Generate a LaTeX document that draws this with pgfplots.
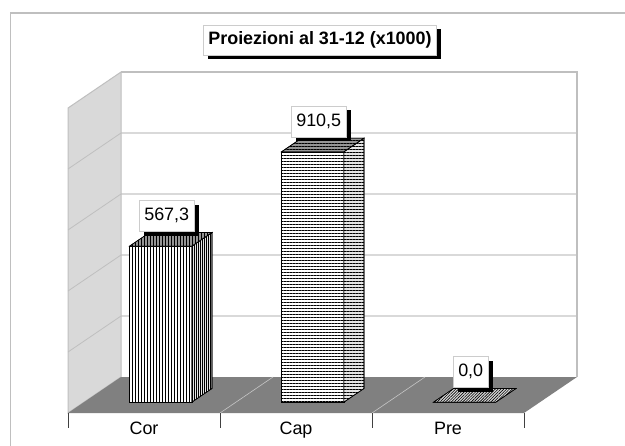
\documentclass[border=0pt]{standalone}
\usepackage{fontspec}
\setmainfont{Liberation Sans}
\usepackage{pgfplots}
\pgfplotsset{compat=1.18}
\usetikzlibrary{patterns.meta,shadows}
\definecolor{wallgray}{HTML}{D9D9D9}
\definecolor{edgegray}{HTML}{BFBFBF}
\definecolor{floorgray}{HTML}{808080}
\definecolor{topgray}{HTML}{959595}
\tikzset{
  myshadow/.style={drop shadow={shadow xshift=4.5bp,shadow yshift=-4.5bp,fill=black,opacity=1}},
  barface/.style={draw=black,line width=0.6bp},
}
\begin{document}
\begin{tikzpicture}
\useasboundingbox (0,0) rectangle (625bp,446bp);
\fill[white] (0,0) rectangle (625bp,446bp);
\draw[edgegray,line width=1.3bp] (10.5bp,-2bp) -- (10.5bp,433bp) -- (627bp,433bp);
\begin{axis}[
  at={(68bp,33bp)}, anchor=origin,
  x={(152bp,0bp)}, y={(53bp,36bp)}, z={(0bp,0.275bp)},
  xmin=0,xmax=3,ymin=0,ymax=1,zmin=0,zmax=1109,
  hide axis, clip=false,
]
% back wall
\addplot3[fill=white,draw=none] coordinates {(0,1,0) (3,1,0) (3,1,1109) (0,1,1109)} -- cycle;
\foreach \zz in {221.8,443.6,665.5,887.3}{
  \edef\tmp{\noexpand\draw[wallgray,line width=1.2bp] (0,1,\zz) -- (3,1,\zz);}\tmp
}
\draw[edgegray,line width=1.3bp] (0,1,1109) -- (3,1,1109) -- (3,1,0);
% left wall
\addplot3[fill=wallgray,draw=edgegray,line width=1bp] coordinates {(0,0,0) (0,1,0) (0,1,1109) (0,0,1109)} -- cycle;
\foreach \zz in {221.8,443.6,665.5,887.3}{
  \edef\tmp{\noexpand\draw[edgegray,line width=0.8bp] (0,0,\zz) -- (0,1,\zz);}\tmp
}
% floor
\addplot3[fill=floorgray,draw=none] coordinates {(0,0,0) (3,0,0) (3,1,0) (0,1,0)} -- cycle;
\draw[gray!45,line width=0.6bp] (1,0,0) -- (1,1,0);
\draw[gray!45,line width=0.6bp] (2,0,0) -- (2,1,0);
% ticks
\foreach \xx in {0,1,2,3}{
  \edef\tmp{\noexpand\draw[black!75,line width=0.8bp] (\xx,0,0) -- (\xx,0,-55);}\tmp
}
% category labels
\node[anchor=base,font=\fontsize{18}{21}\selectfont] at (0.5,0,-78) {Cor};
\node[anchor=base,font=\fontsize{18}{21}\selectfont] at (1.5,0,-78) {Cap};
\node[anchor=base,font=\fontsize{18}{21}\selectfont] at (2.5,0,-78) {Pre};
% Cor bar
\addplot3[barface,fill=white,postaction={pattern={Lines[angle=90,distance=3bp,line width=0.7bp]}}]
  coordinates {(0.3,0.3,0) (0.71,0.3,0) (0.71,0.3,567.3) (0.3,0.3,567.3)} -- cycle;
\addplot3[barface,fill=gray!20,postaction={pattern={Lines[angle=90,distance=2bp,line width=0.6bp]}}]
  coordinates {(0.71,0.3,0) (0.71,0.68,0) (0.71,0.68,567.3) (0.71,0.3,567.3)} -- cycle;
\addplot3[barface,fill=topgray,postaction={pattern={Lines[angle=90,distance=3bp,line width=0.6bp]}}]
  coordinates {(0.3,0.3,567.3) (0.71,0.3,567.3) (0.71,0.68,567.3) (0.3,0.68,567.3)} -- cycle;
% Cap bar
\addplot3[barface,fill=white,postaction={pattern={Lines[angle=0,distance=3bp,line width=0.7bp]}}]
  coordinates {(1.3,0.3,0) (1.71,0.3,0) (1.71,0.3,910.5) (1.3,0.3,910.5)} -- cycle;
\addplot3[barface,fill=gray!20,postaction={pattern={Lines[angle=0,distance=3bp,line width=0.7bp]}}]
  coordinates {(1.71,0.3,0) (1.71,0.68,0) (1.71,0.68,910.5) (1.71,0.3,910.5)} -- cycle;
\addplot3[barface,fill=topgray,postaction={pattern={Lines[angle=0,distance=3bp,line width=0.6bp]}}]
  coordinates {(1.3,0.3,910.5) (1.71,0.3,910.5) (1.71,0.68,910.5) (1.3,0.68,910.5)} -- cycle;
% Pre bar (value 0: only its top face shows)
\addplot3[barface,fill=gray!30,postaction={pattern={Lines[angle=45,distance=2bp,line width=0.6bp]}}]
  coordinates {(2.3,0.3,0) (2.71,0.3,0) (2.71,0.68,0) (2.3,0.68,0)} -- cycle;
% value labels
\addplot3[draw=none,mark=none,point meta=z,
  nodes near coords={\pgfmathprintnumber[fixed,fixed zerofill,precision=1,use comma,assume math mode=true]{\pgfplotspointmeta}},
  every node near coord/.append style={anchor=center,yshift=23.5bp,xshift=-4bp,
    font=\fontsize{18}{21}\selectfont,text=black,fill=white,draw=gray!40,line width=0.8bp,
    inner xsep=5bp,inner ysep=0bp,minimum height=31bp,myshadow}]
  coordinates {(0.505,0.49,567.3) (1.505,0.49,910.5) (2.505,0.49,0.0)};
\end{axis}
\node[draw=gray!40,line width=0.8bp,fill=white,myshadow,font=\bfseries\fontsize{18}{21}\selectfont,
  inner xsep=5bp,inner ysep=0bp,minimum height=30bp] at (320bp,406bp) {Proiezioni al 31-12 (x1000)};
\end{tikzpicture}
\end{document}
